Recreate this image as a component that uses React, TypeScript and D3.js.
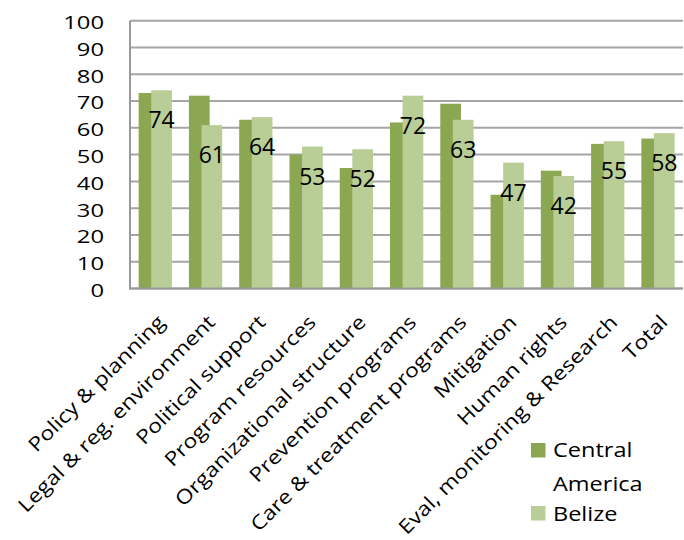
import React from "react";
import * as d3 from "d3";

const categories = [
  "Policy & planning",
  "Legal & reg. environment",
  "Political support",
  "Program resources",
  "Organizational structure",
  "Prevention programs",
  "Care & treatment programs",
  "Mitigation",
  "Human rights",
  "Eval, monitoring & Research",
  "Total",
];
const centralAmerica = [73, 72, 63, 50, 45, 62, 69, 35, 44, 54, 56];
const belize = [74, 61, 64, 53, 52, 72, 63, 47, 42, 55, 58];
const yTicks = [0, 10, 20, 30, 40, 50, 60, 70, 80, 90, 100];
const legendItems = [
  { lines: ["Central", "America"], color: "#8BA751" },
  { lines: ["Belize"], color: "#B9CE96" },
];

const W = 684;
const H = 540;
const FONT = "'Open Sans', sans-serif";
const DARK = "#8BA751";
const LIGHT = "#B9CE96";
// wide text face: glyphs drawn a bit wider than the font's own proportions
const SX = 1.2;
const SX_CAT = 1.17;

export default function App() {
  const x = d3.scaleBand<string>().domain(categories).range([130, 683]).padding(0);
  const y = d3.scaleLinear().domain([0, 100]).range([288.5, 20.7]);
  const bw = x.bandwidth();
  const barW = bw * 0.412;
  const start = bw * 0.172;
  const offset = bw * 0.25;

  return (
    <svg width={W} height={H} style={{ position: "absolute", left: 0, top: 0 }} fontFamily={FONT}>
      <rect width={W} height={H} fill="#fff" />
      {/* gridlines */}
      {yTicks.map((t) => (
        <line key={t} x1={130} x2={683} y1={y(t)} y2={y(t)} stroke="#A5A5A5" strokeWidth={2} />
      ))}
      {/* y tick labels */}
      {yTicks.map((t) => (
        <text
          key={"l" + t}
          transform={`translate(104,${y(t) + 1.5}) scale(${SX + 0.05},1)`}
          dy="0.36em"
          textAnchor="end"
          fontSize={19}
          fill="#000"
        >
          {t}
        </text>
      ))}
      {/* bars */}
      {categories.map((c, i) => (
        <g key={c}>
          <rect x={x(c)! + start} y={y(centralAmerica[i])} width={barW} height={y(0) - y(centralAmerica[i])} fill={DARK} />
          <rect x={x(c)! + start + offset} y={y(belize[i])} width={barW} height={y(0) - y(belize[i])} fill={LIGHT} />
          <text
            x={x(c)! + start + offset + barW / 2}
            y={y(belize[i]) + 38}
            textAnchor="middle"
            fontSize={23}
            fill="#000"
          >
            {belize[i]}
          </text>
        </g>
      ))}
      {/* axes */}
      <line x1={130} x2={130} y1={y(100)} y2={y(0) + 1} stroke="#999" strokeWidth={2} />
      <line x1={129} x2={683} y1={y(0)} y2={y(0)} stroke="#999" strokeWidth={2} />
      {/* category labels */}
      {categories.map((c) => (
        <text
          key={"c" + c}
          transform={`translate(${x(c)! + bw / 2 + 11},${y(0) + 35}) rotate(-45) scale(${SX_CAT},1)`}
          textAnchor="end"
          fontSize={19.6}
          fill="#000"
        >
          {c}
        </text>
      ))}
      {/* legend */}
      <rect x={531} y={443} width={14.5} height={14.5} fill={legendItems[0].color} />
      <text transform={`translate(553,457.3) scale(${SX},1)`} fontSize={19.6} fill="#000">
        {legendItems[0].lines[0]}
      </text>
      <text transform={`translate(553,490.7) scale(${SX},1)`} fontSize={19.6} fill="#000">
        {legendItems[0].lines[1]}
      </text>
      <rect x={531} y={506} width={14.5} height={14.5} fill={legendItems[1].color} />
      <text transform={`translate(553,520.7) scale(${SX},1)`} fontSize={19.6} fill="#000">
        {legendItems[1].lines[0]}
      </text>
    </svg>
  );
}
